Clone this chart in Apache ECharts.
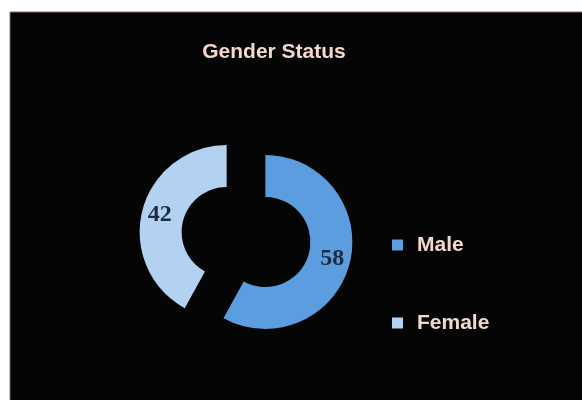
<!DOCTYPE html>
<html>
<head>
<meta charset="utf-8">
<script src="https://cdn.jsdelivr.net/npm/echarts@6/dist/echarts.min.js"></script>
<style>
html,body{margin:0;padding:0;background:#ffffff;}
#chart{width:582px;height:400px;}
</style>
</head>
<body>
<div id="chart"></div>
<script>
const titleText = "Gender Status";
const categories = ["Male", "Female"];
const values = [58, 42];
const colors = ["#5b9ddf", "#b3d2f1"];

const chart = echarts.init(document.getElementById('chart'), null, {renderer: 'canvas'});
chart.setOption({
  backgroundColor: '#ffffff',
  animation: false,
  graphic: [{
    type: 'rect',
    shape: {x: 10, y: 12, width: 580, height: 400},
    style: {fill: '#050505', stroke: '#8c6e66', lineWidth: 1},
    z: -10
  }],
  title: {
    text: titleText,
    left: 269,
    textAlign: 'center',
    top: 37,
    textStyle: {
      color: '#f3d8cd',
      fontFamily: 'Liberation Sans',
      fontWeight: 'bold',
      fontSize: 21
    }
  },
  legend: {
    orient: 'vertical',
    left: 387,
    top: 229,
    itemWidth: 11,
    itemHeight: 11,
    itemGap: 56,
    icon: 'rect',
    data: categories,
    textStyle: {
      color: '#f3d8cd',
      fontFamily: 'Liberation Sans',
      fontWeight: 'bold',
      fontSize: 21,
      lineHeight: 22,
      padding: [0, 0, 0, 9]
    }
  },
  series: [{
    type: 'pie',
    center: [246, 237],
    radius: [45, 87],
    startAngle: 90,
    clockwise: true,
    selectedMode: 'multiple',
    selectedOffset: 20,
    avoidLabelOverlap: false,
    label: {
      show: true,
      position: 'inside',
      formatter: '{c}',
      color: '#1c2b3f',
      fontFamily: 'Liberation Serif',
      fontWeight: 'bold',
      fontSize: 24
    },
    labelLine: {show: false},
    emphasis: {disabled: true},
    data: categories.map((c, i) => ({
      name: c,
      value: values[i],
      selected: true,
      itemStyle: {color: colors[i]}
    }))
  }]
});
</script>
</body>
</html>
